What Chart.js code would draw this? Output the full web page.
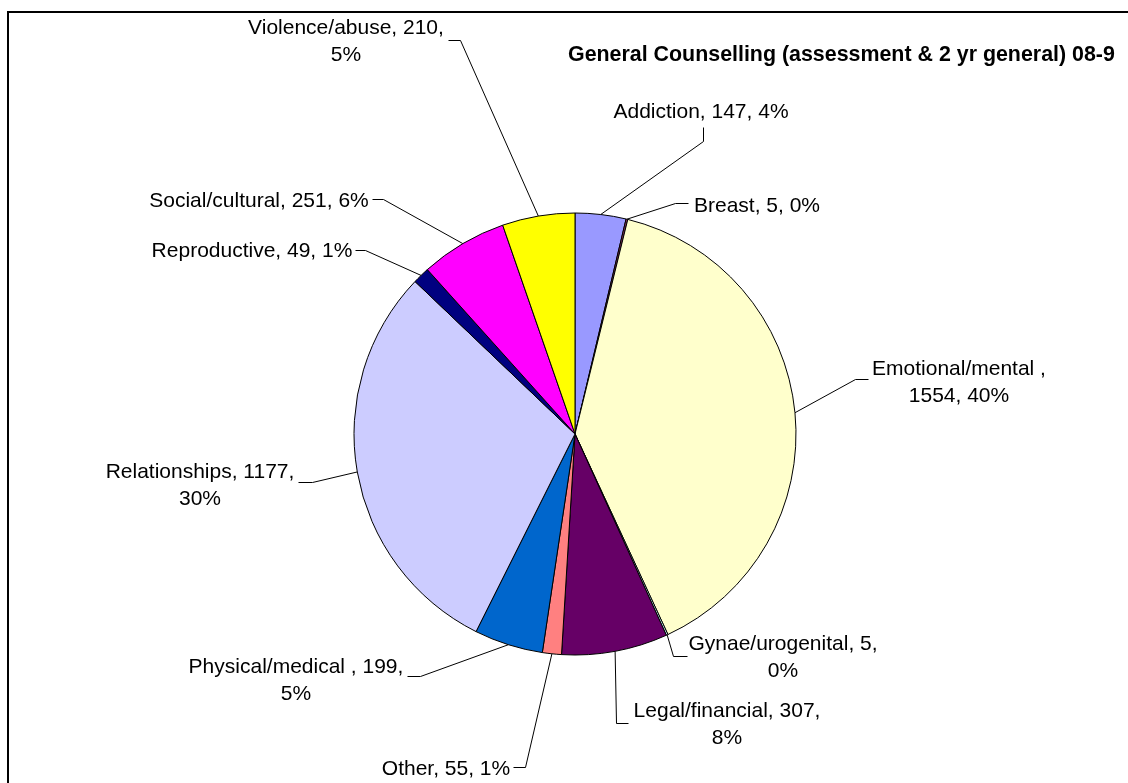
<!DOCTYPE html>
<html>
<head>
<meta charset="utf-8">
<title>General Counselling 08-9</title>
<script src="https://cdn.jsdelivr.net/npm/chart.js@4.4.1/dist/chart.umd.min.js"></script>
<style>
    body { margin: 0; background: #fff; }
    #wrap { position: relative; width: 1128px; height: 783px; overflow: hidden; }
</style>
</head>
<body>
<div id="wrap">
    <canvas id="chart" width="1128" height="783"></canvas>
</div>
<script>
// data
const categories = ['Addiction', 'Breast', 'Emotional/mental ', 'Gynae/urogenital', 'Legal/financial',
    'Other', 'Physical/medical ', 'Relationships', 'Reproductive', 'Social/cultural', 'Violence/abuse']
const counts = [147, 5, 1554, 5, 307, 55, 199, 1177, 49, 251, 210]
const percents = [4, 0, 40, 0, 8, 1, 5, 30, 1, 6, 5]
const sliceColors = ['#9999FF', '#993366', '#FFFFCC', '#CCFFFF', '#660066',
    '#FF8080', '#0066CC', '#CCCCFF', '#000080', '#FF00FF', '#FFFF00']
const title = 'General Counselling (assessment & 2 yr general) 08-9'

// label layout: centre x, first baseline, how many comma parts go on line 1
const labelPos = [
    [701, 118, 3], [757, 212, 3], [959, 375, 1], [783, 650, 2], [727, 717, 2],
    [446, 775, 3], [296, 673, 2], [200, 478, 2], [252, 257, 3], [259, 207, 3], [346, 34, 2]
]
// leader lines: point at the text, then the elbow, then on to the slice
const leaderPts = [
    [703, 127, 703, 141], [688, 203, 675, 203], [868, 379, 855, 379], [687, 656, 673, 656],
    [628, 723, 616, 723], [513, 767, 525, 767], [407, 676, 420, 676], [298, 482, 312, 482],
    [355, 250, 365, 250], [372, 199, 383, 199], [448, 40, 460, 40]
]

const FONT = "'Liberation Sans', Arial, sans-serif"

function labelLines(i) {
    const parts = [categories[i], String(counts[i]), percents[i] + '%']
    const n = labelPos[i][2]
    if (n >= 3) return [parts.join(', ')]
    return [parts.slice(0, n).join(', ') + ',', parts.slice(n).join(', ')]
}

// frame, title, leader lines and labels
const decorPlugin = {
    id: 'decor',
    beforeDraw(chart) {
        const ctx = chart.ctx
        ctx.save()
        ctx.fillStyle = '#fff'
        ctx.fillRect(0, 0, chart.width, chart.height)
        ctx.fillStyle = '#000'
        ctx.fillRect(7, 11, chart.width, 2)
        ctx.fillRect(7, 11, 2, chart.height)
        ctx.restore()
    },
    afterDraw(chart) {
        const ctx = chart.ctx
        const arcs = chart.getDatasetMeta(0).data
        ctx.save()
        ctx.font = 'bold 21.4px ' + FONT
        ctx.fillStyle = '#000'
        ctx.textAlign = 'left'
        ctx.textBaseline = 'alphabetic'
        ctx.fillText(title, 568, 61)

        ctx.strokeStyle = '#000'
        ctx.lineWidth = 1
        arcs.forEach((arc, i) => {
            const mid = (arc.startAngle + arc.endAngle) / 2
            const ax = arc.x + Math.cos(mid) * arc.outerRadius
            const ay = arc.y + Math.sin(mid) * arc.outerRadius
            const p = leaderPts[i]
            ctx.beginPath()
            ctx.moveTo(p[0] + 0.5, p[1] + 0.5)
            ctx.lineTo(p[2] + 0.5, p[3] + 0.5)
            ctx.lineTo(ax, ay)
            ctx.stroke()
        })

        ctx.font = '21px ' + FONT
        ctx.textAlign = 'center'
        labelPos.forEach((pos, i) => {
            labelLines(i).forEach((line, k) => {
                ctx.fillText(line, pos[0], pos[1] + k * 27)
            })
        })
        ctx.restore()
    }
}

const ctx = document.getElementById('chart').getContext('2d')
const chart = new Chart(ctx, {
    type: 'pie',
    data: {
        labels: categories,
        datasets: [{
            data: counts,
            backgroundColor: sliceColors,
            borderColor: '#000',
            borderWidth: 1,
            hoverBorderWidth: 1,
            hoverOffset: 0
        }]
    },
    options: {
        responsive: false,
        animation: false,
        events: [],
        layout: {
            padding: { left: 353.5, right: 331.5, top: 212.5, bottom: 127.5 }
        },
        plugins: {
            legend: { display: false },
            tooltip: { enabled: false },
            title: { display: false }
        }
    },
    plugins: [decorPlugin]
})
</script>
</body>
</html>
